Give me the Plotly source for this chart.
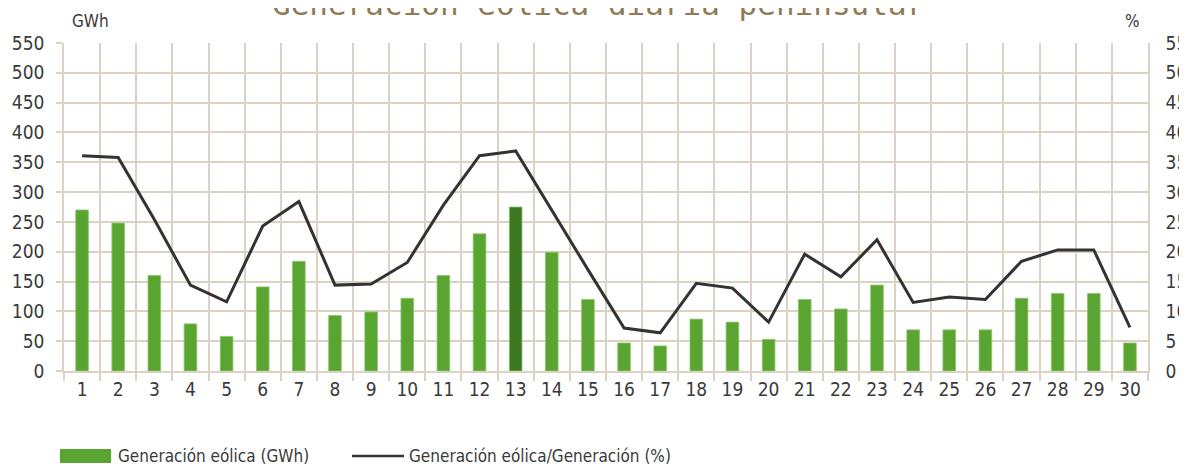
import plotly.graph_objects as go

days = [str(d) for d in range(1, 31)]
wind_gwh = [270, 248, 160, 79, 58, 141, 184, 93, 99, 122,
            160, 230, 275, 199, 120, 47, 42, 87, 82, 53,
            120, 104, 144, 69, 69, 69, 122, 130, 130, 47]
wind_share = [36.1, 35.8, 25.4, 14.4, 11.6, 24.3, 28.4, 14.4, 14.6, 18.2,
              27.8, 36.1, 36.9, 26.9, 17.0, 7.2, 6.4, 14.7, 13.9, 8.2,
              19.6, 15.8, 22.0, 11.5, 12.4, 12.0, 18.4, 20.3, 20.3, 7.3]
highlight_day = "13"

title_text = "Generación eólica diaria peninsular"
bar_name = "Generación eólica (GWh)"
line_name = "Generación eólica/Generación (%)"
left_ticks = list(range(0, 551, 50))
right_ticks = list(range(0, 56, 5))

GREEN = "#5aa532"
DARK = "#3e7722"
GRID = "#dcd2c4"
TXT = "#3a3a3a"
FONT = "Liberation Sans Narrow, DejaVu Sans Condensed, Roboto, sans-serif"

# page body has an 8px margin; work in screen coordinates
OFF = 8
W, H = 1187, 466
X0, X1, Y0, Y1 = 64, 1148, 43, 371          # plot area on screen
L, T = X0 - OFF, Y0 - OFF
R, B = W - (X1 - OFF), H - (Y1 - OFF)
pw, ph = X1 - X0, Y1 - Y0


def px(x):
    return (x - X0) / pw


def py(y):
    return (Y1 - y) / ph


colors = [DARK if d == highlight_day else GREEN for d in days]

fig = go.Figure()
fig.add_trace(go.Bar(x=days, y=wind_gwh, name=bar_name, width=0.35,
                     marker=dict(color=colors, line=dict(color="#8cc66a", width=0.8)),
                     showlegend=False, yaxis="y"))
fig.add_trace(go.Scatter(x=days, y=wind_share, name=line_name, mode="lines",
                         line=dict(color="#333333", width=3),
                         showlegend=False, yaxis="y2"))

fig.update_layout(
    width=W, height=H,
    margin=dict(l=L, r=R, t=T, b=B, autoexpand=False),
    paper_bgcolor="white", plot_bgcolor="white",
    font=dict(family=FONT, size=18, color=TXT),
    xaxis=dict(type="category", tickson="boundaries", showgrid=True,
               gridcolor=GRID, gridwidth=1.5, ticks="outside", ticklen=8,
               tickcolor=GRID, tickwidth=1.5, showline=True, linecolor=GRID,
               linewidth=1.5, tickfont=dict(size=19, color=TXT),
               ticklabelstandoff=0, range=[-0.5, 29.5]),
    yaxis=dict(range=[0, 550], tickvals=left_ticks, showgrid=True,
               gridcolor=GRID, gridwidth=1.5, ticks="outside", ticklen=6,
               tickcolor=GRID, tickwidth=1.5, showline=True, linecolor=GRID,
               linewidth=1.5, zeroline=False, tickfont=dict(size=19, color=TXT),
               ticklabelstandoff=8),
    yaxis2=dict(range=[0, 55], tickvals=right_ticks, overlaying="y", side="right",
                showgrid=False, showline=True, linecolor=GRID, linewidth=1.5,
                zeroline=False, tickfont=dict(size=19, color=TXT),
                ticklabelstandoff=12),
)

annotations = [
    dict(text=title_text, x=px(598), y=py(24), xref="paper", yref="paper",
         xanchor="center", yanchor="bottom", showarrow=False,
         font=dict(family="DejaVu Sans Mono, monospace", size=31, color="#8f7c57")),
    dict(text="GWh", x=px(70), y=py(21), xref="paper", yref="paper",
         xanchor="left", yanchor="middle", showarrow=False,
         font=dict(size=17, color=TXT)),
    dict(text="%", x=px(1142), y=py(21), xref="paper", yref="paper",
         xanchor="right", yanchor="middle", showarrow=False,
         font=dict(size=17, color=TXT)),
    dict(text=bar_name, x=px(116), y=py(456), xref="paper", yref="paper",
         xanchor="left", yanchor="middle", showarrow=False,
         font=dict(size=17, color=TXT)),
    dict(text=line_name, x=px(407), y=py(456), xref="paper", yref="paper",
         xanchor="left", yanchor="middle", showarrow=False,
         font=dict(size=17, color=TXT)),
]
shapes = [
    dict(type="rect", xref="paper", yref="paper", x0=px(60), x1=px(111),
         y0=py(463), y1=py(449), fillcolor=GREEN, line=dict(width=0)),
    dict(type="line", xref="paper", yref="paper", x0=px(352), x1=px(404),
         y0=py(456), y1=py(456), line=dict(color="#333333", width=2.5)),
]
fig.update_layout(annotations=annotations, shapes=shapes)

fig.write_html("out.html")
